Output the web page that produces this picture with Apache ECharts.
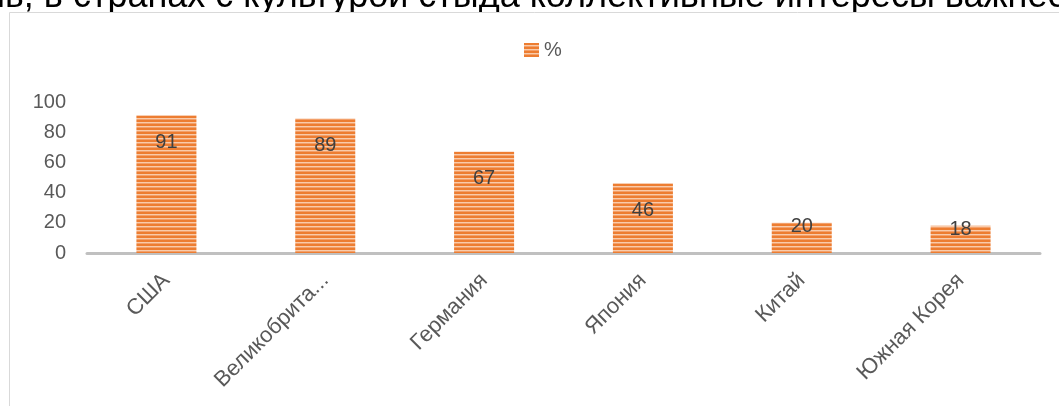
<!DOCTYPE html>
<html>
<head>
<meta charset="utf-8">
<script src="https://cdn.jsdelivr.net/npm/echarts@6/dist/echarts.min.js"></script>
<style>
  html, body { margin: 0; padding: 0; background: #fff; }
  #chart { width: 1059px; height: 406px; }
</style>
</head>
<body>
<div id="chart"></div>
<script>
const categories = ['США', 'Великобритания', 'Германия', 'Япония', 'Китай', 'Южная Корея']
const values = [91, 89, 67, 46, 20, 18]
const seriesName = '%'
const yTicks = [0, 20, 40, 60, 80, 100]
const heading = 'ль, в странах с культурой стыда коллективные интересы важнее'

// striped fill like the office chart
function stripes() {
  const c = document.createElement('canvas')
  c.width = 4
  c.height = 4
  const ctx = c.getContext('2d')
  ctx.fillStyle = '#F9CBAA'
  ctx.fillRect(0, 0, 4, 4)
  ctx.fillStyle = '#ED7D31'
  ctx.fillRect(0, 0, 4, 2)
  ctx.fillStyle = '#F3A06A'
  ctx.fillRect(0, 3, 4, 1)
  return c
}

const chart = echarts.init(document.getElementById('chart'))
const txt = '#595959'
const font = 'Liberation Sans'

chart.setOption({
  animation: false,
  textStyle: { fontFamily: font },
  graphic: [
    {
      type: 'text',
      left: -16,
      top: -21,
      z: -3,
      style: { text: heading, font: '36px "Liberation Sans"', fill: '#000' }
    },
    {
      // chart frame sits over the document text
      type: 'rect',
      shape: { x: 9.5, y: 12.5, width: 1200, height: 500 },
      style: { fill: '#fff', stroke: '#D9D9D9', lineWidth: 1 },
      z: -2
    }
  ],
  legend: {
    top: 40,
    left: 524,
    padding: 0,
    itemWidth: 15,
    itemHeight: 14,
    itemGap: 6,
    icon: 'rect',
    textStyle: { color: txt, fontSize: 20, fontFamily: font }
  },
  grid: { left: 87, right: 19, top: 102, bottom: 153 },
  xAxis: {
    type: 'category',
    data: categories,
    axisLine: { lineStyle: { color: '#C0C0C0', width: 3 } },
    axisTick: { show: false },
    axisLabel: {
      rotate: 45,
      margin: 24,
      color: txt,
      fontSize: 22,
      interval: 0,
      padding: [0, 0, 0, 10],
      formatter: function(v) {
        return v.length > 12 ? v.slice(0, 11) + '...' : v
      }
    }
  },
  yAxis: {
    type: 'value',
    min: yTicks[0],
    max: yTicks[yTicks.length - 1],
    interval: yTicks[1] - yTicks[0],
    axisLine: { show: false },
    axisTick: { show: false },
    splitLine: { show: false },
    axisLabel: { color: txt, fontSize: 20, margin: 21 }
  },
  series: [
    {
      name: seriesName,
      type: 'bar',
      barWidth: 60,
      itemStyle: { color: { image: stripes(), repeat: 'repeat' } },
      label: {
        show: true,
        position: 'insideTop',
        distance: 17,
        color: '#404040',
        fontSize: 20
      },
      data: values.map(v => v < 30
        ? { value: v, label: { position: 'top', distance: -14 } }
        : v)
    }
  ]
})
</script>
</body>
</html>
